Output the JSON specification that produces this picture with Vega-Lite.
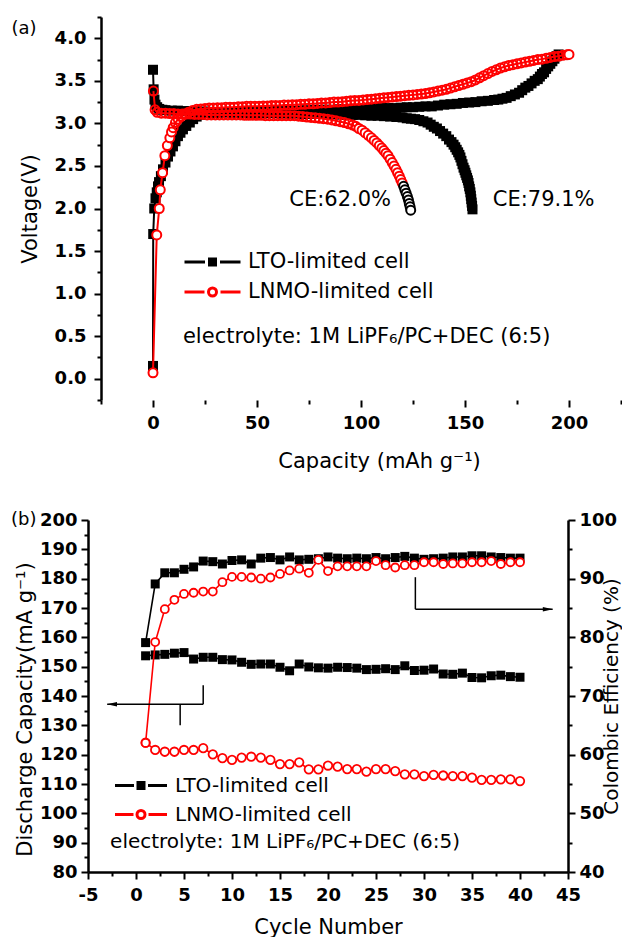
{
"$schema":"https://vega.github.io/schema/vega-lite/v6.json",
"padding":{"left":10,"top":16,"right":0,"bottom":0},
"spacing":40,
"resolve":{"scale":{"color":"independent"}},
"config":{"view":{"stroke":null},"font":"DejaVu Sans",
"axis":{"grid":false,"domainColor":"black","domainWidth":2.5,"tickColor":"black","tickWidth":2,"tickSize":7,"labelFont":"DejaVu Sans","labelFontSize":18,"labelFontWeight":"bold","labelColor":"black","titleFont":"DejaVu Sans","titleFontSize":21,"titleFontWeight":"normal","titleColor":"black","labelPadding":6,"labelOverlap":false,"labelFlush":false},
"text":{"font":"DejaVu Sans","color":"black"}},
"datasets":{
"aLTO":[
{"k":"c","x":0,"y":0.15},{"k":"c","x":0.1,"y":1.7},{"k":"c","x":0.6,"y":2.0},{"k":"c","x":1.2,"y":2.12},{"k":"c","x":1.8,"y":2.19},{"k":"c","x":2.4,"y":2.26},{"k":"c","x":2.9,"y":2.31},{"k":"c","x":3.8,"y":2.38},{"k":"c","x":4.8,"y":2.46},{"k":"c","x":6.0,"y":2.54},{"k":"c","x":7.2,"y":2.61},{"k":"c","x":8.4,"y":2.67},{"k":"c","x":9.6,"y":2.73},{"k":"c","x":10.8,"y":2.79},{"k":"c","x":12.0,"y":2.85},{"k":"c","x":13.2,"y":2.89},{"k":"c","x":14.4,"y":2.93},{"k":"c","x":16.0,"y":2.97},{"k":"c","x":17.7,"y":3.01},{"k":"c","x":19.3,"y":3.05},{"k":"c","x":21.0,"y":3.08},{"k":"c","x":23.0,"y":3.1},{"k":"c","x":26,"y":3.12},{"k":"c","x":29,"y":3.12},{"k":"c","x":32,"y":3.125},{"k":"c","x":35,"y":3.13},{"k":"c","x":38,"y":3.13},{"k":"c","x":41,"y":3.13},{"k":"c","x":44,"y":3.135},{"k":"c","x":47,"y":3.135},{"k":"c","x":50,"y":3.14},{"k":"c","x":53,"y":3.14},{"k":"c","x":56,"y":3.14},{"k":"c","x":59,"y":3.145},{"k":"c","x":62,"y":3.145},{"k":"c","x":65,"y":3.15},{"k":"c","x":68,"y":3.15},{"k":"c","x":71,"y":3.15},{"k":"c","x":74,"y":3.155},{"k":"c","x":77,"y":3.155},{"k":"c","x":80,"y":3.16},{"k":"c","x":83,"y":3.16},{"k":"c","x":86,"y":3.16},{"k":"c","x":89,"y":3.165},{"k":"c","x":92,"y":3.165},{"k":"c","x":95,"y":3.17},{"k":"c","x":98,"y":3.17},{"k":"c","x":101,"y":3.17},{"k":"c","x":104,"y":3.175},{"k":"c","x":107,"y":3.175},{"k":"c","x":110,"y":3.18},{"k":"c","x":113,"y":3.18},{"k":"c","x":116,"y":3.18},{"k":"c","x":119,"y":3.185},{"k":"c","x":122,"y":3.19},{"k":"c","x":125,"y":3.19},{"k":"c","x":128,"y":3.195},{"k":"c","x":131,"y":3.2},{"k":"c","x":134,"y":3.2},{"k":"c","x":137,"y":3.21},{"k":"c","x":140,"y":3.22},{"k":"c","x":143,"y":3.225},{"k":"c","x":146,"y":3.23},{"k":"c","x":149,"y":3.24},{"k":"c","x":152,"y":3.245},{"k":"c","x":155,"y":3.25},{"k":"c","x":158,"y":3.26},{"k":"c","x":161,"y":3.265},{"k":"c","x":164,"y":3.275},{"k":"c","x":166,"y":3.28},{"k":"c","x":168,"y":3.29},{"k":"c","x":170,"y":3.3},{"k":"c","x":172,"y":3.32},{"k":"c","x":174,"y":3.34},{"k":"c","x":176,"y":3.36},{"k":"c","x":177.5,"y":3.39},{"k":"c","x":179,"y":3.42},{"k":"c","x":180.5,"y":3.44},{"k":"c","x":182,"y":3.47},{"k":"c","x":183.5,"y":3.5},{"k":"c","x":185,"y":3.52},{"k":"c","x":186,"y":3.55},{"k":"c","x":187,"y":3.58},{"k":"c","x":188,"y":3.6},{"k":"c","x":189,"y":3.64},{"k":"c","x":190,"y":3.67},{"k":"c","x":191,"y":3.7},{"k":"c","x":192,"y":3.73},{"k":"c","x":193,"y":3.76},{"k":"c","x":194,"y":3.79},{"k":"c","x":195,"y":3.81},
{"k":"d","x":0,"y":3.63},{"k":"d","x":0.3,"y":3.4},{"k":"d","x":0.7,"y":3.28},{"k":"d","x":1.2,"y":3.22},{"k":"d","x":2,"y":3.19},{"k":"d","x":3,"y":3.17},{"k":"d","x":4.5,"y":3.16},{"k":"d","x":6,"y":3.155},{"k":"d","x":9,"y":3.15},{"k":"d","x":12,"y":3.15},{"k":"d","x":15,"y":3.145},{"k":"d","x":18,"y":3.14},{"k":"d","x":21,"y":3.14},{"k":"d","x":24,"y":3.14},{"k":"d","x":27,"y":3.135},{"k":"d","x":30,"y":3.13},{"k":"d","x":33,"y":3.13},{"k":"d","x":36,"y":3.13},{"k":"d","x":39,"y":3.125},{"k":"d","x":42,"y":3.125},{"k":"d","x":45,"y":3.12},{"k":"d","x":48,"y":3.12},{"k":"d","x":51,"y":3.12},{"k":"d","x":54,"y":3.12},{"k":"d","x":57,"y":3.12},{"k":"d","x":60,"y":3.12},{"k":"d","x":63,"y":3.115},{"k":"d","x":66,"y":3.115},{"k":"d","x":69,"y":3.115},{"k":"d","x":72,"y":3.11},{"k":"d","x":75,"y":3.11},{"k":"d","x":78,"y":3.11},{"k":"d","x":81,"y":3.11},{"k":"d","x":84,"y":3.11},{"k":"d","x":87,"y":3.105},{"k":"d","x":90,"y":3.105},{"k":"d","x":93,"y":3.1},{"k":"d","x":96,"y":3.1},{"k":"d","x":99,"y":3.1},{"k":"d","x":102,"y":3.095},{"k":"d","x":105,"y":3.09},{"k":"d","x":108,"y":3.09},{"k":"d","x":111,"y":3.085},{"k":"d","x":114,"y":3.08},{"k":"d","x":117,"y":3.075},{"k":"d","x":120,"y":3.07},{"k":"d","x":122,"y":3.06},{"k":"d","x":124,"y":3.055},{"k":"d","x":126,"y":3.05},{"k":"d","x":128,"y":3.04},{"k":"d","x":130,"y":3.025},{"k":"d","x":132,"y":3.01},{"k":"d","x":133.5,"y":2.985},{"k":"d","x":135,"y":2.96},{"k":"d","x":136.5,"y":2.94},{"k":"d","x":138,"y":2.91},{"k":"d","x":139.5,"y":2.88},{"k":"d","x":141,"y":2.85},{"k":"d","x":142.3,"y":2.81},{"k":"d","x":143.5,"y":2.78},{"k":"d","x":144.5,"y":2.75},{"k":"d","x":145.3,"y":2.72},{"k":"d","x":146,"y":2.69},{"k":"d","x":146.7,"y":2.66},{"k":"d","x":147.3,"y":2.63},{"k":"d","x":147.8,"y":2.6},{"k":"d","x":148.3,"y":2.56},{"k":"d","x":148.8,"y":2.52},{"k":"d","x":149.3,"y":2.48},{"k":"d","x":149.8,"y":2.45},{"k":"d","x":150.2,"y":2.42},{"k":"d","x":150.6,"y":2.39},{"k":"d","x":151,"y":2.36},{"k":"d","x":151.4,"y":2.33},{"k":"d","x":151.7,"y":2.3},{"k":"d","x":152,"y":2.26},{"k":"d","x":152.3,"y":2.23},{"k":"d","x":152.6,"y":2.19},{"k":"d","x":152.8,"y":2.15},{"k":"d","x":153,"y":2.11},{"k":"d","x":153.2,"y":2.07},{"k":"d","x":153.4,"y":2.03},{"k":"d","x":153.6,"y":1.99}],
"aLNMO":[
{"k":"c","x":0,"y":0.07},{"k":"c","x":1.8,"y":1.69},{"k":"c","x":3.0,"y":2.0},{"k":"c","x":3.5,"y":2.22},{"k":"c","x":4.6,"y":2.42},{"k":"c","x":5.7,"y":2.62},{"k":"c","x":6.9,"y":2.74},{"k":"c","x":8.1,"y":2.83},{"k":"c","x":8.9,"y":2.9},{"k":"c","x":9.7,"y":2.95},{"k":"c","x":10.8,"y":3.01},{"k":"c","x":12.1,"y":3.05},{"k":"c","x":13.5,"y":3.08},{"k":"c","x":15,"y":3.11},{"k":"c","x":17,"y":3.13},{"k":"c","x":19,"y":3.15},{"k":"c","x":21,"y":3.165},{"k":"c","x":23,"y":3.17},{"k":"c","x":25,"y":3.175},{"k":"c","x":27,"y":3.18},{"k":"c","x":29,"y":3.18},{"k":"c","x":31,"y":3.185},{"k":"c","x":33,"y":3.185},{"k":"c","x":35,"y":3.19},{"k":"c","x":37,"y":3.19},{"k":"c","x":39,"y":3.19},{"k":"c","x":41,"y":3.195},{"k":"c","x":43,"y":3.195},{"k":"c","x":45,"y":3.2},{"k":"c","x":47,"y":3.2},{"k":"c","x":49,"y":3.2},{"k":"c","x":51,"y":3.2},{"k":"c","x":53,"y":3.205},{"k":"c","x":55,"y":3.205},{"k":"c","x":57,"y":3.21},{"k":"c","x":59,"y":3.21},{"k":"c","x":61,"y":3.21},{"k":"c","x":63,"y":3.215},{"k":"c","x":65,"y":3.215},{"k":"c","x":67,"y":3.22},{"k":"c","x":69,"y":3.22},{"k":"c","x":71,"y":3.225},{"k":"c","x":73,"y":3.225},{"k":"c","x":75,"y":3.23},{"k":"c","x":77,"y":3.23},{"k":"c","x":79,"y":3.235},{"k":"c","x":81,"y":3.24},{"k":"c","x":83,"y":3.24},{"k":"c","x":85,"y":3.245},{"k":"c","x":87,"y":3.25},{"k":"c","x":89,"y":3.25},{"k":"c","x":91,"y":3.255},{"k":"c","x":93,"y":3.26},{"k":"c","x":95,"y":3.265},{"k":"c","x":97,"y":3.27},{"k":"c","x":99,"y":3.27},{"k":"c","x":101,"y":3.275},{"k":"c","x":103,"y":3.28},{"k":"c","x":105,"y":3.285},{"k":"c","x":107,"y":3.29},{"k":"c","x":109,"y":3.295},{"k":"c","x":111,"y":3.3},{"k":"c","x":113,"y":3.305},{"k":"c","x":115,"y":3.31},{"k":"c","x":117,"y":3.315},{"k":"c","x":119,"y":3.32},{"k":"c","x":121,"y":3.325},{"k":"c","x":123,"y":3.33},{"k":"c","x":125,"y":3.335},{"k":"c","x":127,"y":3.34},{"k":"c","x":129,"y":3.345},{"k":"c","x":131,"y":3.35},{"k":"c","x":133,"y":3.36},{"k":"c","x":135,"y":3.37},{"k":"c","x":137,"y":3.38},{"k":"c","x":139,"y":3.39},{"k":"c","x":141,"y":3.4},{"k":"c","x":143,"y":3.415},{"k":"c","x":145,"y":3.43},{"k":"c","x":147,"y":3.445},{"k":"c","x":149,"y":3.46},{"k":"c","x":151,"y":3.475},{"k":"c","x":153,"y":3.49},{"k":"c","x":155,"y":3.51},{"k":"c","x":157,"y":3.535},{"k":"c","x":159,"y":3.56},{"k":"c","x":161,"y":3.585},{"k":"c","x":163,"y":3.61},{"k":"c","x":165,"y":3.63},{"k":"c","x":167,"y":3.65},{"k":"c","x":169,"y":3.665},{"k":"c","x":171,"y":3.68},{"k":"c","x":173,"y":3.69},{"k":"c","x":175,"y":3.7},{"k":"c","x":177,"y":3.71},{"k":"c","x":179,"y":3.72},{"k":"c","x":181,"y":3.73},{"k":"c","x":183,"y":3.74},{"k":"c","x":185,"y":3.75},{"k":"c","x":187,"y":3.755},{"k":"c","x":189,"y":3.765},{"k":"c","x":191,"y":3.775},{"k":"c","x":193,"y":3.785},{"k":"c","x":195,"y":3.79},{"k":"c","x":197,"y":3.8},{"k":"c","x":199,"y":3.805},{"k":"c","x":200,"y":3.81},
{"k":"d","x":0.2,"y":3.38},{"k":"d","x":1,"y":3.16},{"k":"d","x":2,"y":3.13},{"k":"d","x":4,"y":3.12},{"k":"d","x":6,"y":3.12},{"k":"d","x":8,"y":3.115},{"k":"d","x":10,"y":3.115},{"k":"d","x":12,"y":3.11},{"k":"d","x":14,"y":3.11},{"k":"d","x":16,"y":3.11},{"k":"d","x":18,"y":3.11},{"k":"d","x":20,"y":3.105},{"k":"d","x":22,"y":3.105},{"k":"d","x":24,"y":3.105},{"k":"d","x":26,"y":3.1},{"k":"d","x":28,"y":3.1},{"k":"d","x":30,"y":3.1},{"k":"d","x":32,"y":3.1},{"k":"d","x":34,"y":3.1},{"k":"d","x":36,"y":3.1},{"k":"d","x":38,"y":3.1},{"k":"d","x":40,"y":3.1},{"k":"d","x":42,"y":3.1},{"k":"d","x":44,"y":3.095},{"k":"d","x":46,"y":3.095},{"k":"d","x":48,"y":3.095},{"k":"d","x":50,"y":3.095},{"k":"d","x":52,"y":3.095},{"k":"d","x":54,"y":3.09},{"k":"d","x":56,"y":3.09},{"k":"d","x":58,"y":3.09},{"k":"d","x":60,"y":3.09},{"k":"d","x":62,"y":3.09},{"k":"d","x":64,"y":3.09},{"k":"d","x":66,"y":3.09},{"k":"d","x":68,"y":3.09},{"k":"d","x":70,"y":3.085},{"k":"d","x":72,"y":3.08},{"k":"d","x":74,"y":3.075},{"k":"d","x":76,"y":3.07},{"k":"d","x":78,"y":3.065},{"k":"d","x":80,"y":3.06},{"k":"d","x":82,"y":3.055},{"k":"d","x":84,"y":3.05},{"k":"d","x":86,"y":3.04},{"k":"d","x":88,"y":3.03},{"k":"d","x":90,"y":3.02},{"k":"d","x":92,"y":3.01},{"k":"d","x":94,"y":2.995},{"k":"d","x":96,"y":2.98},{"k":"d","x":97.5,"y":2.965},{"k":"d","x":99,"y":2.94},{"k":"d","x":100.5,"y":2.92},{"k":"d","x":102,"y":2.89},{"k":"d","x":103.5,"y":2.86},{"k":"d","x":105,"y":2.83},{"k":"d","x":106.3,"y":2.8},{"k":"d","x":107.6,"y":2.77},{"k":"d","x":108.8,"y":2.74},{"k":"d","x":110,"y":2.71},{"k":"d","x":111,"y":2.68},{"k":"d","x":112,"y":2.65},{"k":"d","x":113,"y":2.62},{"k":"d","x":114,"y":2.58},{"k":"d","x":115,"y":2.54},{"k":"d","x":115.9,"y":2.5},{"k":"d","x":116.8,"y":2.46},{"k":"d","x":117.6,"y":2.42},{"k":"d","x":118.4,"y":2.38},{"k":"d","x":119.1,"y":2.34},{"k":"d","x":119.8,"y":2.3},{"k":"d","x":120.5,"y":2.26},{"k":"d","x":121.1,"y":2.22},{"k":"d","x":121.7,"y":2.18},{"k":"d","x":122.3,"y":2.14},{"k":"d","x":122.8,"y":2.1},{"k":"d","x":123.2,"y":2.06},{"k":"d","x":123.6,"y":2.02},{"k":"d","x":123.9,"y":1.98}],
"aTag":[{"x":-62,"y":4.11,"t":"(a)"}],
"aCE":[{"x":90,"y":2.1,"t":"CE:62.0%"},{"x":187.8,"y":2.1,"t":"CE:79.1%"}],
"aEl":[{"x":14.4,"y":0.49,"t":"electrolyte: 1M LiPF₆/PC+DEC (6:5)"}],
"b":[
{"n":1,"lc":153.7,"lce":79.1,"nc":124.1,"nce":62.0},
{"n":2,"lc":154.0,"lce":89.1,"nc":121.6,"nce":79.2},
{"n":3,"lc":154.2,"lce":91.0,"nc":121.0,"nce":84.8},
{"n":4,"lc":154.6,"lce":91.0,"nc":121.0,"nce":86.4},
{"n":5,"lc":154.8,"lce":91.6,"nc":121.6,"nce":87.4},
{"n":6,"lc":152.6,"lce":92.0,"nc":121.6,"nce":87.6},
{"n":7,"lc":153.2,"lce":93.0,"nc":122.2,"nce":87.8},
{"n":8,"lc":153.2,"lce":92.9,"nc":120.1,"nce":87.8},
{"n":9,"lc":152.4,"lce":92.5,"nc":118.8,"nce":89.4},
{"n":10,"lc":152.3,"lce":93.1,"nc":118.2,"nce":90.3},
{"n":11,"lc":151.5,"lce":93.2,"nc":119.0,"nce":90.3},
{"n":12,"lc":150.8,"lce":92.5,"nc":119.3,"nce":90.2},
{"n":13,"lc":150.9,"lce":93.5,"nc":119.0,"nce":90.0},
{"n":14,"lc":150.9,"lce":93.6,"nc":118.2,"nce":90.2},
{"n":15,"lc":149.8,"lce":93.2,"nc":116.8,"nce":90.8},
{"n":16,"lc":148.6,"lce":93.7,"nc":116.8,"nce":91.4},
{"n":17,"lc":150.9,"lce":93.2,"nc":117.4,"nce":91.7},
{"n":18,"lc":149.9,"lce":93.3,"nc":115.0,"nce":91.0},
{"n":19,"lc":149.6,"lce":93.4,"nc":115.0,"nce":93.2},
{"n":20,"lc":149.5,"lce":93.7,"nc":116.3,"nce":91.3},
{"n":21,"lc":149.8,"lce":93.5,"nc":115.9,"nce":92.1},
{"n":22,"lc":149.7,"lce":93.4,"nc":115.1,"nce":92.1},
{"n":23,"lc":149.5,"lce":93.5,"nc":115.1,"nce":92.1},
{"n":24,"lc":149.0,"lce":93.4,"nc":114.2,"nce":92.1},
{"n":25,"lc":149.1,"lce":93.6,"nc":115.1,"nce":93.0},
{"n":26,"lc":149.3,"lce":93.4,"nc":115.1,"nce":92.3},
{"n":27,"lc":149.0,"lce":93.6,"nc":114.4,"nce":91.9},
{"n":28,"lc":150.3,"lce":93.8,"nc":113.3,"nce":92.3},
{"n":29,"lc":148.7,"lce":93.5,"nc":113.3,"nce":92.3},
{"n":30,"lc":148.8,"lce":93.3,"nc":112.7,"nce":92.8},
{"n":31,"lc":149.2,"lce":93.4,"nc":113.1,"nce":92.8},
{"n":32,"lc":147.5,"lce":93.5,"nc":112.9,"nce":92.5},
{"n":33,"lc":147.4,"lce":93.7,"nc":112.7,"nce":92.6},
{"n":34,"lc":147.8,"lce":93.7,"nc":112.7,"nce":92.6},
{"n":35,"lc":146.3,"lce":93.9,"nc":112.2,"nce":92.8},
{"n":36,"lc":146.2,"lce":93.9,"nc":111.4,"nce":92.8},
{"n":37,"lc":146.9,"lce":93.7,"nc":111.4,"nce":93.0},
{"n":38,"lc":147.1,"lce":93.6,"nc":111.6,"nce":92.5},
{"n":39,"lc":146.6,"lce":93.5,"nc":111.6,"nce":92.8},
{"n":40,"lc":146.4,"lce":93.5,"nc":111.0,"nce":92.8}],
"bArrows":[{"x":-3.0,"x2":7.0,"y":137.2,"y2":137.2},{"x":7.0,"x2":7.0,"y":137.2,"y2":143.7},{"x":4.6,"x2":4.6,"y":137.2,"y2":130.0},{"x":29.1,"x2":29.1,"y":180.5,"y2":169.6},{"x":29.1,"x2":43.4,"y":169.6,"y2":169.6}],
"bArrL":[{"x":-2.5,"y":137.2}],
"bArrR":[{"x":42.9,"y":169.6}],
"bTag":[{"x":-11.7,"y":200,"t":"(b)"}],
"bEl":[{"x":-2.7,"y":90.1,"t":"electrolyte: 1M LiPF₆/PC+DEC (6:5)"}]
},
"vconcat":[
{"width":533,"height":383,
"resolve":{"axis":{"x":"independent","y":"independent"}},
"layer":[
{"data":{"name":"aLTO"},"mark":{"type":"line","strokeWidth":2},
"encoding":{
"x":{"field":"x","type":"quantitative","scale":{"domain":[-31.25,225],"nice":false,"zero":false},"axis":{"orient":"bottom","values":[0,50,100,150,200],"domain":false,"title":"Capacity (mAh g⁻¹)","labelPadding":7,"titlePadding":18,"titleX":291}},
"y":{"field":"y","type":"quantitative","scale":{"domain":[-0.25,4.25],"nice":false,"zero":false},"axis":{"orient":"left","offset":-13,"values":[0,0.5,1,1.5,2,2.5,3,3.5,4],"format":".1f","title":"Voltage(V)","labelPadding":8,"titlePadding":14}},
"detail":{"field":"k"},
"color":{"datum":"LTO-limited cell","type":"nominal","scale":{"domain":["LTO-limited cell","LNMO-limited cell"],"range":["black","red"]},
"legend":{"orient":"none","legendX":113,"legendY":233.5,"title":null,"padding":0,"symbolSize":400,"symbolStrokeWidth":3,"labelFont":"DejaVu Sans","labelFontSize":21,"labelFontWeight":"normal","labelColor":"black","labelOffset":24,"labelLimit":500,"rowPadding":8,
"encode":{"symbols":{"update":{
"shape":{"signal":"datum.value === 'LTO-limited cell' ? 'M-2.8,0H-0.75M0.75,0H2.8M-0.3,-0.3H0.3V0.3H-0.3Z' : 'M-2.8,0H-0.8M0.8,0H2.8M0.4,0A0.4,0.4 0 1,1 -0.4,0A0.4,0.4 0 1,1 0.4,0Z'"},
"fill":{"signal":"datum.value === 'LTO-limited cell' ? 'black' : 'white'"},
"stroke":{"signal":"datum.value === 'LTO-limited cell' ? 'black' : 'red'"},
"strokeWidth":{"value":3},"opacity":{"value":1}}}}}}
}},
{"data":{"name":"aLTO"},"mark":{"type":"point","shape":"square","filled":true,"color":"black","size":100,"opacity":1},
"encoding":{
"x":{"field":"x","type":"quantitative","axis":{"orient":"bottom","values":[-25,25,75,125,175,225],"labels":false,"domain":false,"tickSize":4,"title":null}},
"y":{"field":"y","type":"quantitative","axis":{"orient":"left","offset":-13,"values":[-0.25,0.25,0.75,1.25,1.75,2.25,2.75,3.25,3.75,4.25],"labels":false,"domain":false,"tickSize":4,"title":null}}}},
{"mark":{"type":"rule","color":"black","strokeWidth":2.5},
"encoding":{"x":{"datum":-25,"type":"quantitative","axis":null},"x2":{"datum":225},"y":{"datum":-0.25,"type":"quantitative","axis":null}}},
{"data":{"name":"aLNMO"},"mark":{"type":"line","strokeWidth":2,"color":"red"},
"encoding":{"x":{"field":"x","type":"quantitative","axis":null},"y":{"field":"y","type":"quantitative","axis":null},"detail":{"field":"k"}}},
{"data":{"name":"aLNMO"},"mark":{"type":"point","shape":"circle","size":81,"strokeWidth":2,"opacity":1},
"encoding":{"x":{"field":"x","type":"quantitative","axis":null},"y":{"field":"y","type":"quantitative","axis":null},
"fill":{"condition":{"test":"datum.y < 2.95 || datum.x >= 199.5","value":"white"},"value":"transparent"},
"stroke":{"condition":{"test":"datum.k === 'd' && datum.y < 2.3","value":"black"},"value":"red"}}},
{"data":{"name":"aTag"},"mark":{"type":"text","fontSize":18,"align":"center","baseline":"middle"},
"encoding":{"x":{"field":"x","type":"quantitative","axis":null},"y":{"field":"y","type":"quantitative","axis":null},"text":{"field":"t"}}},
{"data":{"name":"aCE"},"mark":{"type":"text","fontSize":21,"align":"center","baseline":"middle"},
"encoding":{"x":{"field":"x","type":"quantitative","axis":null},"y":{"field":"y","type":"quantitative","axis":null},"text":{"field":"t"}}},
{"data":{"name":"aEl"},"mark":{"type":"text","fontSize":21,"align":"left","baseline":"middle"},
"encoding":{"x":{"field":"x","type":"quantitative","axis":null},"y":{"field":"y","type":"quantitative","axis":null},"text":{"field":"t"}}}
]},
{"width":480,"height":352,
"resolve":{"scale":{"y":"independent"},"axis":{"x":"independent","y":"independent"}},
"layer":[
{"data":{"name":"b"},"mark":{"type":"line","strokeWidth":1.6},
"encoding":{
"x":{"field":"n","type":"quantitative","scale":{"domain":[-5,45],"nice":false,"zero":false},"axis":{"orient":"bottom","values":[-5,0,5,10,15,20,25,30,35,40,45],"labelExpr":"datum.value < 0 ? '-' + abs(datum.value) : '' + datum.value","title":"Cycle Number","labelPadding":7,"titlePadding":12}},
"y":{"field":"lc","type":"quantitative","scale":{"domain":[80,200],"nice":false,"zero":false},"axis":{"orient":"left","values":[80,90,100,110,120,130,140,150,160,170,180,190,200],"title":"Discharge Capacity(mA g⁻¹)","labelPadding":4,"titlePadding":4,"titleY":189}},
"color":{"datum":"LTO-limited cell","type":"nominal","scale":{"domain":["LTO-limited cell","LNMO-limited cell"],"range":["black","red"]},
"legend":{"orient":"none","legendX":41.5,"legendY":254,"title":null,"padding":0,"symbolSize":400,"symbolStrokeWidth":3,"labelFont":"DejaVu Sans","labelFontSize":20,"labelFontWeight":"normal","labelColor":"black","labelOffset":22.5,"labelLimit":500,"rowPadding":7,
"encode":{"symbols":{"update":{
"shape":{"signal":"datum.value === 'LTO-limited cell' ? 'M-2.6,0H-0.7M0.7,0H2.6M-0.3,-0.3H0.3V0.3H-0.3Z' : 'M-2.6,0H-0.75M0.75,0H2.6M0.4,0A0.4,0.4 0 1,1 -0.4,0A0.4,0.4 0 1,1 0.4,0Z'"},
"fill":{"signal":"datum.value === 'LTO-limited cell' ? 'black' : 'white'"},
"stroke":{"signal":"datum.value === 'LTO-limited cell' ? 'black' : 'red'"},
"strokeWidth":{"value":3},"opacity":{"value":1}}}}}}
}},
{"data":{"name":"b"},"mark":{"type":"point","shape":"square","filled":true,"color":"black","size":81,"opacity":1},
"encoding":{
"x":{"field":"n","type":"quantitative","axis":{"orient":"bottom","values":[-2.5,2.5,7.5,12.5,17.5,22.5,27.5,32.5,37.5,42.5],"labels":false,"domain":false,"tickSize":4,"title":null}},
"y":{"field":"lc","type":"quantitative","scale":{"domain":[80,200],"nice":false,"zero":false},"axis":{"orient":"left","values":[85,95,105,115,125,135,145,155,165,175,185,195],"labels":false,"domain":false,"tickSize":4,"title":null}}}},
{"data":{"name":"b"},"mark":{"type":"line","strokeWidth":1.6,"color":"black"},
"encoding":{"x":{"field":"n","type":"quantitative","axis":null},
"y":{"field":"lce","type":"quantitative","scale":{"domain":[40,100],"nice":false,"zero":false},"axis":{"orient":"right","values":[40,50,60,70,80,90,100],"title":"Colombic Efficiency (%)","titleFontSize":20,"titleAngle":270,"titleBaseline":"bottom","labelPadding":4,"titlePadding":5}}}},
{"data":{"name":"b"},"mark":{"type":"point","shape":"square","filled":true,"color":"black","size":81,"opacity":1},
"encoding":{"x":{"field":"n","type":"quantitative","axis":null},
"y":{"field":"lce","type":"quantitative","scale":{"domain":[40,100],"nice":false,"zero":false},"axis":{"orient":"right","values":[45,55,65,75,85,95],"labels":false,"domain":false,"tickSize":4,"title":null}}}},
{"data":{"name":"b"},"mark":{"type":"line","strokeWidth":1.6,"color":"red"},
"encoding":{"x":{"field":"n","type":"quantitative","axis":null},
"y":{"field":"nc","type":"quantitative","scale":{"domain":[80,200],"nice":false,"zero":false},"axis":null}}},
{"data":{"name":"b"},"mark":{"type":"point","shape":"circle","size":72,"strokeWidth":1.8,"fill":"white","stroke":"red","opacity":1},
"encoding":{"x":{"field":"n","type":"quantitative","axis":null},
"y":{"field":"nc","type":"quantitative","scale":{"domain":[80,200],"nice":false,"zero":false},"axis":null}}},
{"data":{"name":"b"},"mark":{"type":"line","strokeWidth":1.6,"color":"red"},
"encoding":{"x":{"field":"n","type":"quantitative","axis":null},
"y":{"field":"nce","type":"quantitative","scale":{"domain":[40,100],"nice":false,"zero":false},"axis":null}}},
{"data":{"name":"b"},"mark":{"type":"point","shape":"circle","size":64,"strokeWidth":1.8,"fill":"white","stroke":"red","opacity":1},
"encoding":{"x":{"field":"n","type":"quantitative","axis":null},
"y":{"field":"nce","type":"quantitative","scale":{"domain":[40,100],"nice":false,"zero":false},"axis":null}}},
{"data":{"name":"bArrows"},"mark":{"type":"rule","color":"black","strokeWidth":1.5},
"encoding":{"x":{"field":"x","type":"quantitative","axis":null},"x2":{"field":"x2"},
"y":{"field":"y","type":"quantitative","scale":{"domain":[80,200],"nice":false,"zero":false},"axis":null},"y2":{"field":"y2"}}},
{"data":{"name":"bArrL"},"mark":{"type":"point","shape":"M-1,0L1,-0.45L1,0.45Z","filled":true,"color":"black","size":100,"opacity":1},
"encoding":{"x":{"field":"x","type":"quantitative","axis":null},"y":{"field":"y","type":"quantitative","scale":{"domain":[80,200],"nice":false,"zero":false},"axis":null}}},
{"data":{"name":"bArrR"},"mark":{"type":"point","shape":"M1,0L-1,-0.45L-1,0.45Z","filled":true,"color":"black","size":100,"opacity":1},
"encoding":{"x":{"field":"x","type":"quantitative","axis":null},"y":{"field":"y","type":"quantitative","scale":{"domain":[80,200],"nice":false,"zero":false},"axis":null}}},
{"data":{"name":"bTag"},"mark":{"type":"text","fontSize":18,"align":"center","baseline":"middle"},
"encoding":{"x":{"field":"x","type":"quantitative","axis":null},"y":{"field":"y","type":"quantitative","scale":{"domain":[80,200],"nice":false,"zero":false},"axis":null},"text":{"field":"t"}}},
{"data":{"name":"bEl"},"mark":{"type":"text","fontSize":20,"align":"left","baseline":"middle"},
"encoding":{"x":{"field":"x","type":"quantitative","axis":null},"y":{"field":"y","type":"quantitative","scale":{"domain":[80,200],"nice":false,"zero":false},"axis":null},"text":{"field":"t"}}}
]}
]
}
